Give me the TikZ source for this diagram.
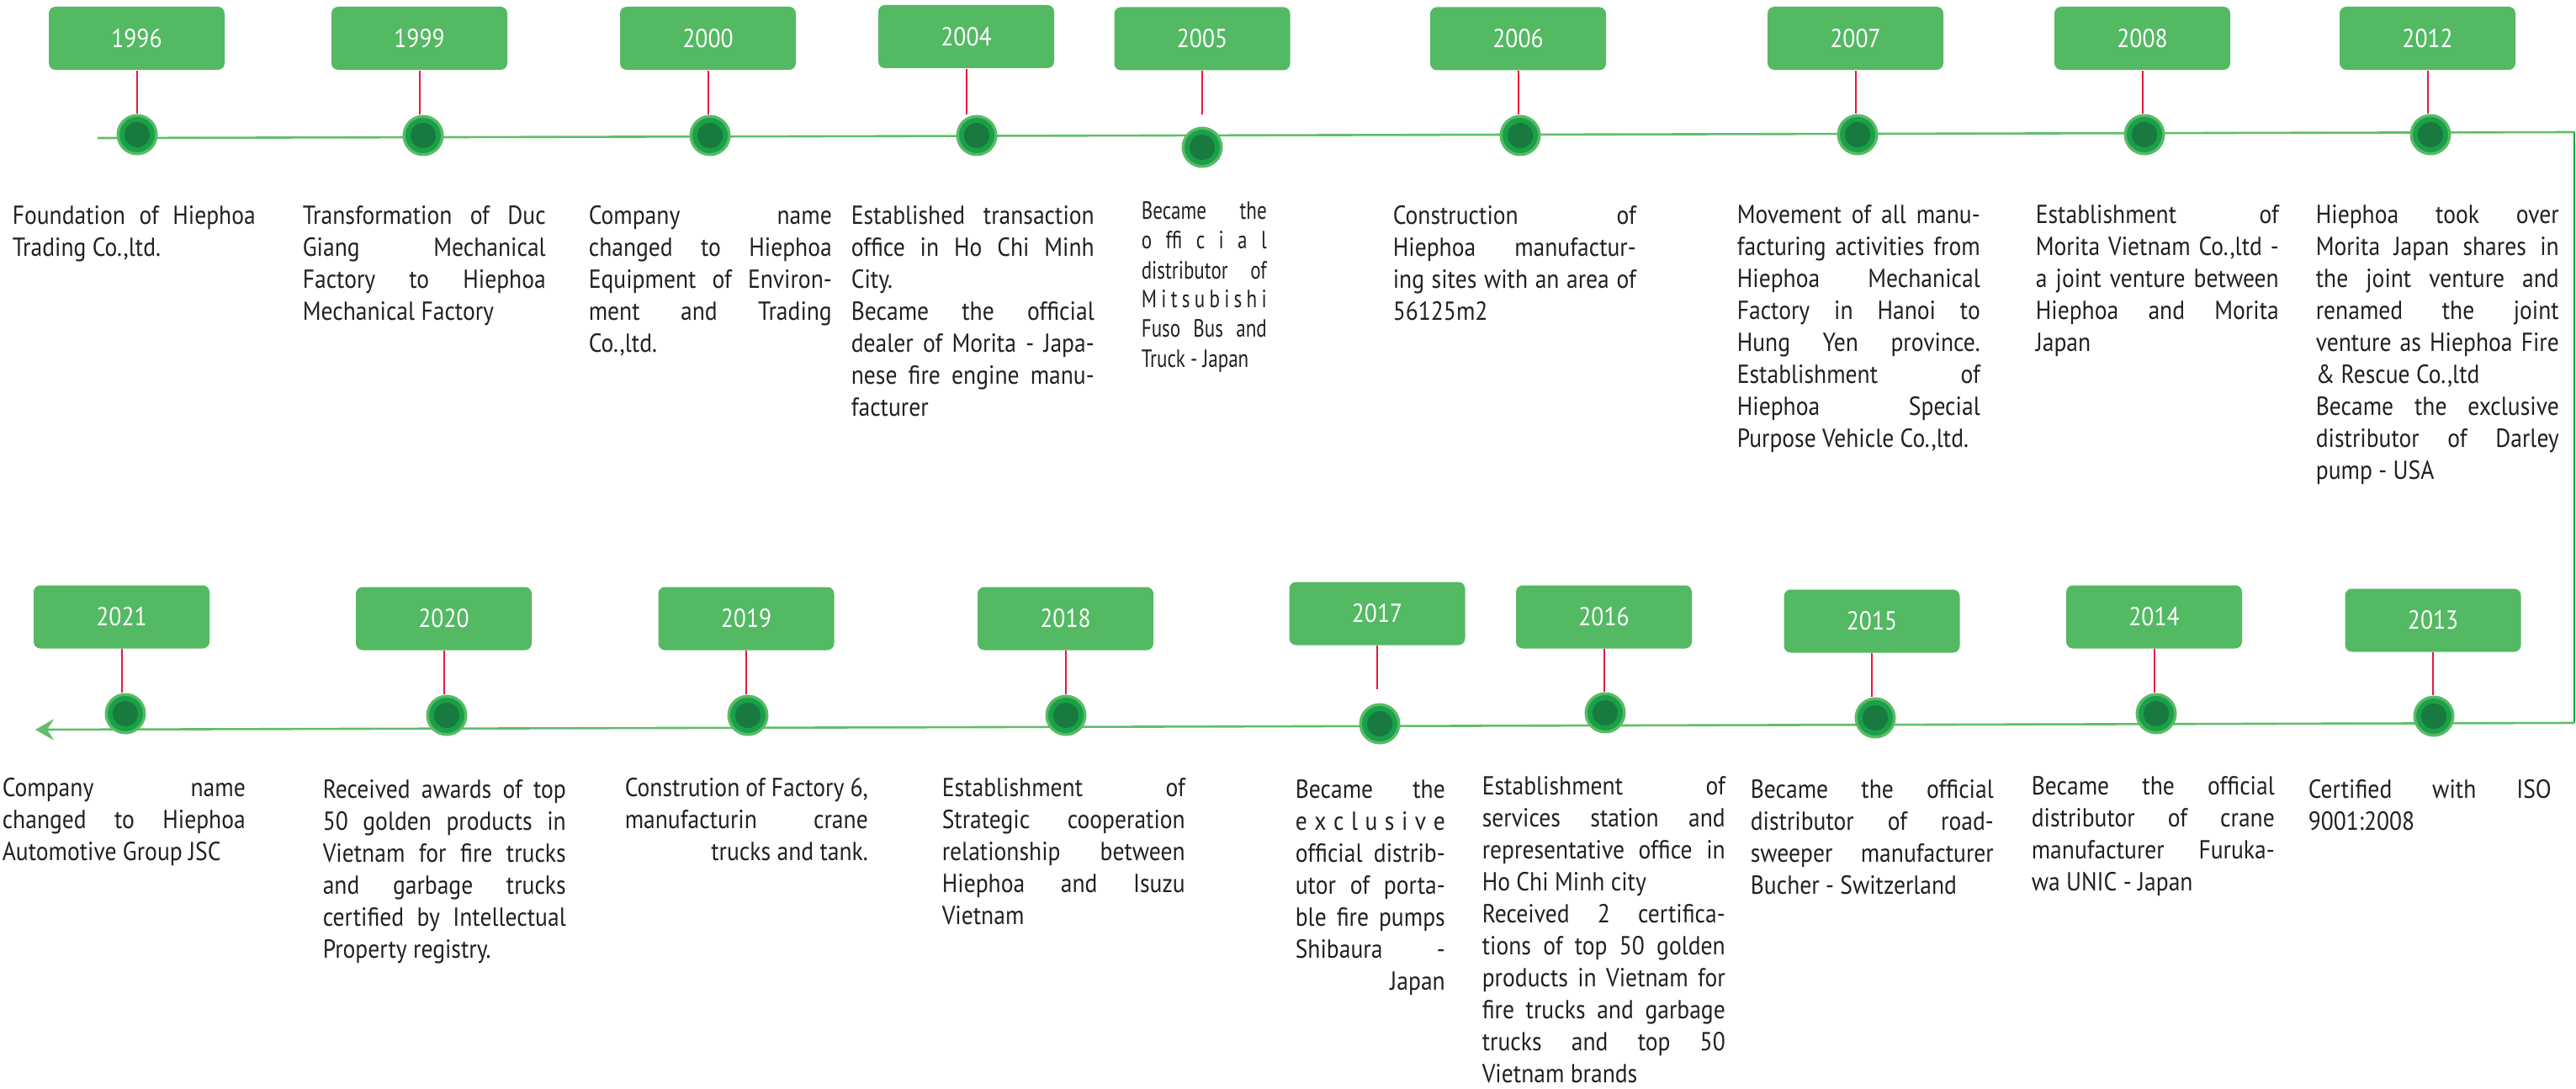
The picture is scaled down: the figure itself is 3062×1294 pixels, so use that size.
\documentclass[tikz,border=0pt]{standalone}
\usepackage{fontspec}
\setmainfont{PT Sans}[FakeStretch=0.89]
\newfontfamily\narrowfont{PT Sans}[FakeStretch=0.78]
\usepackage{tikz}
\usetikzlibrary{positioning}
\usetikzlibrary{arrows.meta}
\definecolor{boxgreen}{RGB}{84,185,99}
\definecolor{linegreen}{RGB}{96,190,106}
\definecolor{ringgreen}{RGB}{88,187,101}
\definecolor{midgreen}{RGB}{26,160,72}
\definecolor{darkgreen}{RGB}{24,122,62}
\definecolor{stemred}{RGB}{232,25,60}
\definecolor{notegray}{RGB}{35,31,32}
\setlength{\parindent}{0pt}
\newcommand{\notesize}{\fontsize{7.75pt}{9.5pt}\selectfont}
\newcommand{\narrowsize}{\narrowfont\fontsize{7.4pt}{8.75pt}\selectfont}
\newcommand{\yearsize}{\fontsize{7.75pt}{9pt}\selectfont}
\tikzset{
  yearbox/.style={fill=boxgreen, rounded corners=2pt, minimum width=52.25pt,
    minimum height=18.75pt, inner sep=0pt, text=white, font=\yearsize},
  dot/.style={circle, fill=ringgreen, minimum size=12.25pt, inner sep=0pt,
    path picture={
      \fill[midgreen] (path picture bounding box.center) circle[radius=5.25pt];
      \fill[darkgreen] (path picture bounding box.center) circle[radius=3.75pt];}},
  stem/.style={draw=stemred, line width=0.5pt},
  note/.style={text width=72.25pt, align=justify, inner sep=0pt, anchor=base west,
    text=notegray, font=\notesize},
  axis/.style={draw=linegreen, line width=0.65pt}
}

\begin{document}
\begin{tikzpicture}[x=0.25pt,y=-0.25pt]
  \useasboundingbox (0,0) rectangle (3062,1294);
  % the line that runs through all the years
  \coordinate (start) at (116,164);
  \coordinate (turnA) at (3060,157);
  \coordinate (turnB) at (3060,859);
  \coordinate (finish) at (42,867);
  \draw[axis] (start) -- (turnA);
  \draw[draw=midgreen, line width=0.6pt] (turnA) -- (turnB);
  \draw[axis, -{Stealth[length=5.5pt,width=6.25pt,inset=2pt]}] (turnB) -- (finish);

  % upper row
  \node[yearbox] (y1996) at (162.5,45.5) {1996};
  \node[dot] (d1996) at (163,160) {};
  \draw[stem] (y1996.south) -- (y1996.south |- d1996.north);
  \node[note] (n1996) at (14,267) {Foundation of Hiephoa\linebreak Trading Co.,ltd.};

  \node[yearbox] (y1999) at (498.5,45.5) {1999};
  \node[dot] (d1999) at (503,161) {};
  \draw[stem] (y1999.south) -- (y1999.south |- d1999.north);
  \node[note] (n1999) at (359,267) {Transformation of Duc\linebreak Giang Mechanical\linebreak Factory to Hiephoa\linebreak Mechanical Factory};

  \node[yearbox] (y2000) at (841.5,45.5) {2000};
  \node[dot] (d2000) at (844,161) {};
  \draw[stem] (y2000.south) -- (y2000.south |- d2000.north);
  \node[note] (n2000) at (699,267) {Company name\linebreak changed to Hiephoa\linebreak Equipment of Environ-\linebreak ment and Trading\linebreak Co.,ltd.};

  \node[yearbox] (y2004) at (1148.5,43.5) {2004};
  \node[dot] (d2004) at (1161,161) {};
  \draw[stem] (y2004.south) -- (y2004.south |- d2004.north);
  \node[note] (n2004) at (1011,267) {Established transaction\linebreak office in Ho Chi Minh\linebreak City.\par Became the official\linebreak dealer of Morita - Japa-\linebreak nese fire engine manu-\linebreak facturer};

  \node[yearbox] (y2005) at (1429,46) {2005};
  \node[dot] (d2005) at (1429,175) {};
  \coordinate (s2005) at (1429,136);
  \draw[stem] (y2005.south) -- (s2005);
  \node[note, text width=37.25pt, font=\narrowsize] (n2005) at (1356,261) {Became the\linebreak o\hfill ffi\hfill c\hfill i\hfill a\hfill l\linebreak distributor of\linebreak M\hfill i\hfill t\hfill s\hfill u\hfill b\hfill i\hfill s\hfill h\hfill i\linebreak Fuso Bus and\linebreak Truck - Japan};

  \node[yearbox] (y2006) at (1804.5,46) {2006};
  \node[dot] (d2006) at (1807,161) {};
  \draw[stem] (y2006.south) -- (y2006.south |- d2006.north);
  \node[note] (n2006) at (1655,267) {Construction of\linebreak Hiephoa manufactur-\linebreak ing sites with an area of\linebreak 56125m2};

  \node[yearbox] (y2007) at (2205.5,45.5) {2007};
  \node[dot] (d2007) at (2208,160) {};
  \draw[stem] (y2007.south) -- (y2007.south |- d2007.north);
  \node[note] (n2007) at (2064,266) {Movement of all manu-\linebreak facturing activities from\linebreak Hiephoa Mechanical\linebreak Factory in Hanoi to\linebreak Hung Yen province.\linebreak Establishment of\linebreak Hiephoa Special\linebreak Purpose Vehicle Co.,ltd.};

  \node[yearbox] (y2008) at (2546.5,45.5) {2008};
  \node[dot] (d2008) at (2549,160) {};
  \draw[stem] (y2008.south) -- (y2008.south |- d2008.north);
  \node[note] (n2008) at (2419,266) {Establishment of\linebreak Morita Vietnam Co.,ltd -\linebreak a joint venture between\linebreak Hiephoa and Morita\linebreak Japan};

  \node[yearbox] (y2012) at (2885.5,45.5) {2012};
  \node[dot] (d2012) at (2889,160) {};
  \draw[stem] (y2012.south) -- (y2012.south |- d2012.north);
  \node[note] (n2012) at (2752,266) {Hiephoa took over\linebreak Morita Japan shares in\linebreak the joint venture and\linebreak renamed the joint\linebreak venture as Hiephoa Fire\linebreak \& Rescue Co.,ltd\par Became the exclusive\linebreak distributor of Darley\linebreak pump - USA};

  % lower row
  \node[yearbox] (y2013) at (2892,737) {2013};
  \node[dot] (d2013) at (2893,851) {};
  \draw[stem] (y2013.south) -- (y2013.south |- d2013.north);
  \node[note] (n2013) at (2743,948) {Certified with ISO\linebreak 9001:2008};

  \node[yearbox] (y2014) at (2560.5,733) {2014};
  \node[dot] (d2014) at (2563,848) {};
  \draw[stem] (y2014.south) -- (y2014.south |- d2014.north);
  \node[note] (n2014) at (2414,944) {Became the official\linebreak distributor of crane\linebreak manufacturer Furuka-\linebreak wa UNIC - Japan};

  \node[yearbox] (y2015) at (2225,738) {2015};
  \node[dot] (d2015) at (2229,853) {};
  \draw[stem] (y2015.south) -- (y2015.south |- d2015.north);
  \node[note] (n2015) at (2080,948) {Became the official\linebreak distributor of road-\linebreak sweeper manufacturer\linebreak Bucher - Switzerland};

  \node[yearbox] (y2016) at (1906.5,733) {2016};
  \node[dot] (d2016) at (1908,847) {};
  \draw[stem] (y2016.south) -- (y2016.south |- d2016.north);
  \node[note] (n2016) at (1761,944) {Establishment of\linebreak services station and\linebreak representative office in\linebreak Ho Chi Minh city\par Received 2 certifica-\linebreak tions of top 50 golden\linebreak products in Vietnam for\linebreak fire trucks and garbage\linebreak trucks and top 50\linebreak Vietnam brands};

  \node[yearbox] (y2017) at (1637,729) {2017};
  \node[dot] (d2017) at (1640,860) {};
  \coordinate (s2017) at (1637,819);
  \draw[stem] (y2017.south) -- (s2017);
  \node[note, text width=44.5pt] (n2017) at (1539,948) {Became the\linebreak e\hfill x\hfill c\hfill l\hfill u\hfill s\hfill i\hfill v\hfill e\linebreak official distrib-\linebreak utor of porta-\linebreak ble fire pumps\linebreak Shibaura -\linebreak \null\hfill Japan};

  \node[yearbox] (y2018) at (1266.5,735) {2018};
  \node[dot] (d2018) at (1267,850) {};
  \draw[stem] (y2018.south) -- (y2018.south |- d2018.north);
  \node[note] (n2018) at (1119,946) {Establishment of\linebreak Strategic cooperation\linebreak relationship between\linebreak Hiephoa and Isuzu\linebreak Vietnam};

  \node[yearbox] (y2019) at (887,735) {2019};
  \node[dot] (d2019) at (889,850) {};
  \draw[stem] (y2019.south) -- (y2019.south |- d2019.north);
  \node[note] (n2019) at (742,946) {Constrution of Factory 6,\linebreak manufacturin crane\linebreak \null\hfill trucks and tank.};

  \node[yearbox] (y2020) at (527.5,735) {2020};
  \node[dot] (d2020) at (531,850) {};
  \draw[stem] (y2020.south) -- (y2020.south |- d2020.north);
  \node[note] (n2020) at (383,948) {Received awards of top\linebreak 50 golden products in\linebreak Vietnam for fire trucks\linebreak and garbage trucks\linebreak certified by Intellectual\linebreak Property registry.};

  \node[yearbox] (y2021) at (144.5,733) {2021};
  \node[dot] (d2021) at (149,848) {};
  \draw[stem] (y2021.south) -- (y2021.south |- d2021.north);
  \node[note] (n2021) at (2,946) {Company name\linebreak changed to Hiephoa\linebreak Automotive Group JSC};
\end{tikzpicture}
\end{document}
